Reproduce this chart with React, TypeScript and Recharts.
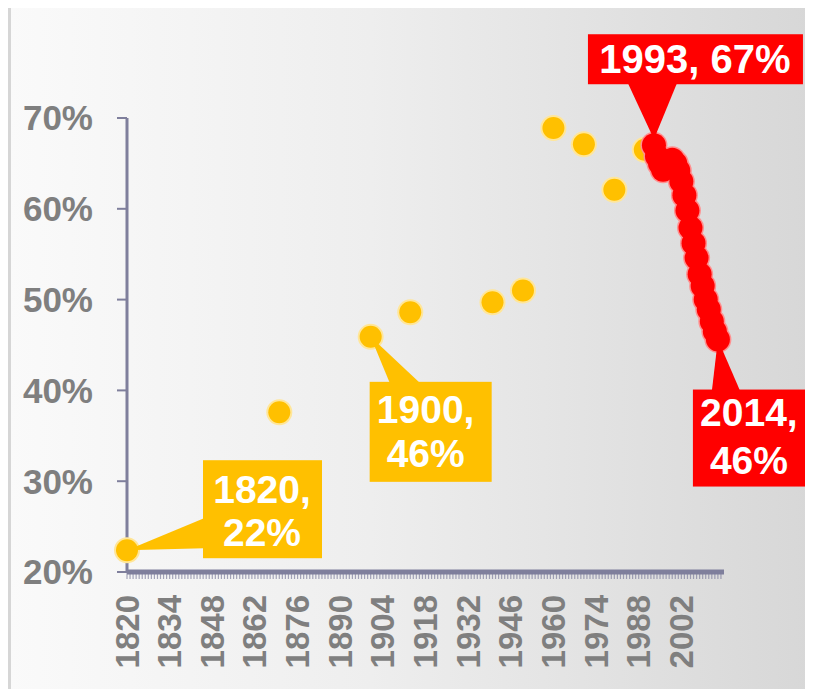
import React from 'react';
import { ScatterChart, Scatter, XAxis, YAxis } from 'recharts';

// early observations (gold) and the 1993–2014 series (red)
const goldYears = [1820, 1870, 1900, 1913, 1940, 1950, 1960, 1970, 1980, 1990];
const goldShares = [22.4, 37.6, 45.9, 48.6, 49.7, 51.0, 68.9, 67.1, 62.1, 66.5];

const redYears = [
  1993, 1994, 1995, 1996, 1997, 1998, 1999, 2000, 2001, 2002, 2003,
  2004, 2005, 2006, 2007, 2008, 2009, 2010, 2011, 2012, 2013, 2014,
];
const redShares = [
  67.0, 65.8, 65.0, 64.3, 64.6, 65.2, 65.4, 65.0, 64.2, 63.0, 61.5,
  59.8, 57.9, 56.2, 54.6, 52.8, 51.5, 50.0, 48.9, 47.6, 46.5, 45.6,
];

const calloutYears = [1820, 1900, 1993, 2014];

const xLabelYears = [1820, 1834, 1848, 1862, 1876, 1890, 1904, 1918, 1932, 1946, 1960, 1974, 1988, 2002];
const yTicks = [20, 30, 40, 50, 60, 70];

const GOLD = '#FFC000';
const RED = '#FF0000';
const AXIS = '#7F7F9C';
const LABEL = '#7F7F7F';
const FONT = "'Liberation Sans', Arial, sans-serif";

const goldData = goldYears.map((year, i) => ({ year, value: goldShares[i] }));
const redData = redYears.map((year, i) => ({ year, value: redShares[i] }));
const allData = [...goldData, ...redData];
const calloutData = calloutYears.map(y => allData.find(d => d.year === y)!);

// every year gets a minor tick, only some get a label
const minorTicks: number[] = [];
for (let y = 1820; y <= 2015; y++) minorTicks.push(y);
const labelSet = new Set(xLabelYears);

// callout geometry relative to the marker centre
const calloutLayout: Record<number, any> = {
  1820: { color: GOLD, box: [76, -90, 119, 98], base: [[77, -32], [77, -2]], tx: 135, lines: [-61, -18], size: 39 },
  1900: { color: GOLD, box: [-1, 45, 122, 100], base: [[19, 46], [49, 46]], tx: 55, lines: [73, 117], size: 39 },
  1993: { color: RED, box: [-66, -111, 215, 50], base: [[-26, -62], [23, -62]], tip: -6, tx: 41, lines: [-86], size: 40 },
  2014: { color: RED, box: [-25, 50, 115, 97], base: [[-6, 51], [22, 51]], tx: 31, lines: [73, 121], size: 39 },
};

const Dot = ({ cx, cy, fill, r }: any) => <circle cx={cx} cy={cy} r={r} fill={fill} />;

const Callout = ({ cx, cy, payload }: any) => {
  const l = calloutLayout[payload.year];
  if (!l) return null;
  const pct = `${Math.round(payload.value)}%`;
  const text = l.lines.length === 1 ? [`${payload.year}, ${pct}`] : [`${payload.year},`, pct];
  const tipY = cy + (l.tip ?? 0);
  const pts = `${cx},${tipY} ${cx + l.base[0][0]},${cy + l.base[0][1]} ${cx + l.base[1][0]},${cy + l.base[1][1]}`;
  return (
    <g>
      <polygon points={pts} fill={l.color} />
      <rect x={cx + l.box[0]} y={cy + l.box[1]} width={l.box[2]} height={l.box[3]} fill={l.color} />
      {text.map((t, i) => (
        <text
          key={i}
          x={cx + l.tx}
          y={cy + l.lines[i]}
          textAnchor="middle"
          dominantBaseline="central"
          fill="#FFFFFF"
          fontFamily={FONT}
          fontWeight="bold"
          fontSize={l.size}
        >
          {t}
        </text>
      ))}
    </g>
  );
};

const XTick = ({ x, y, payload }: any) => {
  if (!labelSet.has(payload.value)) return <g />;
  return (
    <text
      x={x}
      y={y}
      transform={`rotate(-90 ${x} ${y})`}
      textAnchor="end"
      dominantBaseline="central"
      fill={LABEL}
      fontFamily={FONT}
      fontWeight="bold"
      fontSize={33}
    >
      {payload.value}
    </text>
  );
};

export default function App() {
  return (
    <div
      style={{
        width: 805,
        height: 681,
        background: 'linear-gradient(90deg, #FAFAFA 0%, #EEEEEE 45%, #D7D7D7 100%)',
        boxShadow: 'inset 3px 0 0 #D6D6D6',
      }}
    >
      <ScatterChart width={805} height={681} margin={{ top: 110, right: 89, bottom: 0, left: 0 }}>
        <XAxis
          type="number"
          dataKey="year"
          domain={[1820, 2016]}
          ticks={minorTicks}
          interval={0}
          height={117}
          tickSize={7}
          tickMargin={16}
          axisLine={{ stroke: AXIS, strokeWidth: 5 }}
          tickLine={{ stroke: AXIS, strokeWidth: 1.2, strokeOpacity: 0.7 }}
          tick={<XTick />}
        />
        <YAxis
          type="number"
          dataKey="value"
          domain={[20, 70]}
          ticks={yTicks}
          width={119}
          tickSize={10}
          tickMargin={24}
          axisLine={{ stroke: AXIS, strokeWidth: 3 }}
          tickLine={{ stroke: AXIS, strokeWidth: 2 }}
          tick={{ fill: LABEL, fontSize: 35, fontWeight: 'bold', fontFamily: FONT }}
          tickFormatter={(v: number) => `${v}%`}
        />
        {/* soft halo first, then the solid markers on top */}
        <Scatter data={goldData} isAnimationActive={false} shape={(p: any) => <Dot {...p} r={13} fill="#FFE699" />} />
        <Scatter data={goldData} isAnimationActive={false} shape={(p: any) => <Dot {...p} r={11} fill={GOLD} />} />
        <Scatter data={redData} isAnimationActive={false} shape={(p: any) => <Dot {...p} r={13.5} fill="#FF9090" />} />
        <Scatter data={redData} isAnimationActive={false} shape={(p: any) => <Dot {...p} r={12} fill={RED} />} />
        <Scatter data={calloutData} isAnimationActive={false} shape={(p: any) => <Callout {...p} />} />
      </ScatterChart>
    </div>
  );
}
